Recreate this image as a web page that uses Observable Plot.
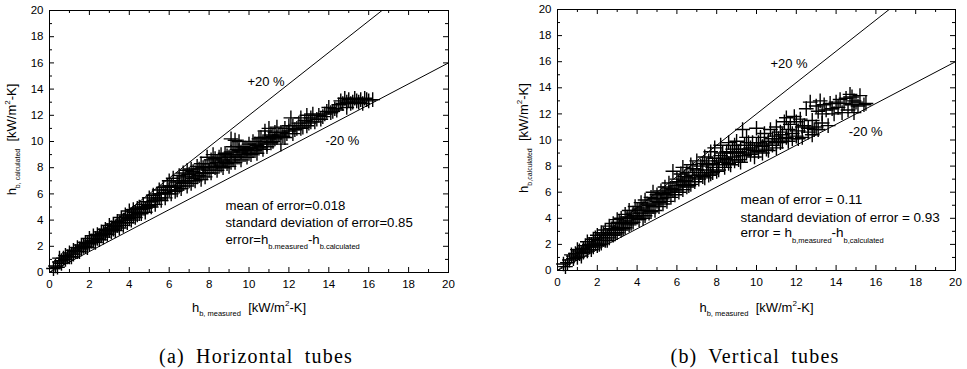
<!DOCTYPE html>
<html><head><meta charset="utf-8">
<script src="https://cdn.jsdelivr.net/npm/d3@7"></script>
<script src="https://cdn.jsdelivr.net/npm/@observablehq/plot@0.6"></script>
<style>
body{margin:0;background:#fff;}
#wrap{position:relative;width:967px;height:369px;overflow:hidden;background:#fff;}
.panel{position:absolute;top:0;}
.cap{position:absolute;top:346px;font-family:"Liberation Serif","Times New Roman",serif;font-size:20px;line-height:20px;letter-spacing:1.2px;word-spacing:5px;text-align:center;color:#000;white-space:pre;}
</style></head><body>
<div id="wrap">
<div id="pa" class="panel" style="left:0"></div>
<div id="pb" class="panel" style="left:480px"></div>
<div class="cap" style="left:0;width:512px">(a) Horizontal tubes</div>
<div class="cap" style="left:510px;width:490px">(b) Vertical tubes</div>
</div>
<script>
// ---- data ----
const majorTicks = [0, 2, 4, 6, 8, 10, 12, 14, 16, 18, 20];
const minorTicks = [1, 3, 5, 7, 9, 11, 13, 15, 17, 19];
const errorBand = 0.2;            // ±20 % reference lines
const refLineX = [0, 20];

// [h_b,measured, h_b,calculated]
const horizontalTubes = [
[0.2,0.3],[0.3,0.5],[0.4,0.4],[0.5,0.8],[0.5,1.1],[0.6,0.9],[0.7,1.1],[0.8,1.0],[0.8,1.3],[0.9,1.2],
[1.0,1.5],[1.0,1.2],[1.1,1.4],[1.2,1.7],[1.2,1.4],[1.3,1.6],[1.4,1.9],[1.4,1.6],[1.5,1.8],[1.6,2.1],
[1.6,1.8],[1.7,2.0],[1.8,2.3],[1.8,2.0],[1.9,2.2],[2.0,2.6],[2.0,2.2],[2.1,2.4],[2.2,2.8],[2.2,2.4],
[2.3,2.6],[2.4,2.9],[2.4,2.6],[2.5,2.8],[2.6,3.1],[2.6,2.8],[2.7,3.0],[2.8,3.3],[2.8,3.0],[2.9,3.2],
[3.0,3.6],[3.0,3.2],[3.1,3.4],[3.2,3.7],[3.2,3.3],[3.3,3.5],[3.4,3.9],[3.4,3.6],[3.5,3.8],[3.6,4.2],
[3.6,3.8],[3.7,4.0],[3.8,4.4],[3.8,4.0],[3.9,4.3],[4.0,4.7],[4.0,4.1],[4.1,4.4],[4.2,4.8],[4.2,4.3],
[4.3,4.6],[4.4,4.9],[4.5,4.5],[4.5,5.0],[4.6,4.8],[4.7,5.2],[4.8,4.9],[4.9,5.4],[5.0,5.1],[5.0,5.7],
[5.1,5.4],[5.2,5.9],[5.3,5.5],[5.4,6.0],[5.5,5.7],[5.5,6.3],[5.6,6.0],[5.7,6.5],[5.8,6.1],[5.9,6.6],
[6.0,6.3],[6.0,7.0],[6.1,6.6],[6.2,7.2],[6.3,6.5],[6.4,6.9],[6.5,7.4],[6.5,6.6],[6.6,7.0],[6.7,7.6],
[6.8,6.9],[6.8,7.3],[6.9,7.8],[7.0,7.0],[7.0,7.5],[7.1,7.9],[7.2,7.2],[7.3,7.6],[7.4,8.1],[7.5,7.4],
[7.5,7.9],[7.6,8.3],[7.7,7.6],[7.8,8.1],[7.9,8.8],[8.0,7.8],[8.0,8.3],[8.1,8.6],[8.2,9.0],[8.3,8.0],
[8.4,8.4],[8.5,8.8],[8.6,8.2],[8.7,8.6],[8.8,9.1],[8.9,8.3],[9.0,8.8],[9.1,10.2],[9.1,9.2],[9.2,8.6],
[9.3,10.1],[9.3,9.0],[9.4,9.4],[9.5,8.8],[9.5,10.0],[9.6,9.2],[9.7,9.6],[9.8,9.0],[9.9,9.4],[10.0,9.8],
[10.0,9.1],[10.1,9.5],[10.2,10.0],[10.3,9.3],[10.4,9.7],[10.5,10.2],[10.6,9.6],[10.7,10.0],[10.8,10.8],[10.8,10.3],
[10.9,9.8],[11.0,10.2],[11.0,11.0],[11.1,10.5],[11.2,10.0],[11.3,10.7],[11.4,10.3],[11.4,11.1],[11.6,9.8],[11.6,10.7],
[11.7,10.4],[11.8,11.0],[12.0,10.8],[12.1,11.8],[12.2,11.2],[12.3,10.9],[12.5,11.4],[12.6,11.8],[12.7,11.1],[12.8,11.6],
[12.9,12.0],[13.0,11.4],[13.1,11.8],[13.2,12.1],[13.4,11.7],[13.5,12.0],[13.7,11.9],[13.9,12.3],[14.0,12.6],[14.1,12.2],
[14.3,12.5],[14.5,12.8],[14.6,13.1],[14.7,12.9],[14.8,13.3],[14.9,13.0],[15.0,13.2],[15.2,13.0],[15.3,13.3],[15.4,13.1],
[15.6,13.2],[15.7,12.9],[15.8,13.3],[16.0,13.1],[16.2,13.2],
[0.6,0.7],[1.1,1.2],[1.5,1.6],[1.9,1.9],[2.3,2.3],[2.5,2.5],[2.7,2.7],[2.9,2.9],[3.1,3.1],[3.3,3.2],
[3.5,3.4],[3.7,3.6],[3.9,3.8],[4.1,4.0],[4.3,4.2],[4.4,4.4],[4.6,4.5],[4.8,4.6],[4.9,5.0],[5.1,5.0],
[5.3,5.2],[5.4,5.6],[5.6,5.5],[5.8,5.7],[5.9,6.0],[6.1,6.0],[6.3,6.2],[6.4,6.3],[6.6,6.4],[6.7,6.8],
[6.9,6.6],[7.1,6.8],[7.2,7.7],[7.3,7.0],[7.4,7.3],[7.6,7.1],[7.7,8.0],[7.8,7.3],[7.9,7.6],[8.1,7.6],
[8.2,8.1],[8.3,8.7],[8.4,7.8],[8.5,8.1],[8.6,9.0],[8.7,8.0],[8.8,8.5],[8.9,8.9],[9.0,8.1],[9.1,8.4],
[9.2,9.6],[9.3,8.4],[9.4,8.8],[9.5,9.3],[9.6,8.6],[9.7,9.0],[9.8,9.5],[9.9,8.8],[10.1,9.0],[10.2,9.3],
[10.3,9.8],[10.4,9.1],[10.5,9.5],[10.6,10.3],[10.7,9.4],[10.9,9.6],[11.1,9.9],[11.2,10.4],[11.3,10.2],[11.5,10.5],
[11.8,10.3],[11.9,10.6],[12.0,11.2],[12.2,10.6],[12.4,11.0],[12.6,11.0],[12.9,11.2],[13.1,11.5],[13.3,11.5],[13.6,11.7],
[13.8,12.1],[14.2,12.3],[14.4,12.4],[14.9,12.6],[15.1,12.9],[15.5,13.0],[15.9,13.2]
];

// [h_b,measured, h_b,calculated]
const verticalTubes = [
[0.3,0.5],[0.4,0.3],[0.6,0.8],[0.7,1.2],[0.8,0.9],[0.9,1.3],[1.0,1.0],[1.0,1.6],[1.1,1.3],[1.2,1.1],
[1.3,1.7],[1.3,1.4],[1.4,1.9],[1.5,1.5],[1.5,2.2],[1.6,1.8],[1.7,2.0],[1.7,1.6],[1.8,2.4],[1.9,2.1],
[2.0,1.9],[2.0,2.7],[2.1,2.3],[2.2,2.1],[2.2,2.9],[2.3,2.5],[2.4,2.3],[2.4,3.1],[2.5,2.7],[2.6,2.5],
[2.6,3.4],[2.7,2.9],[2.8,2.7],[2.8,3.6],[2.9,3.1],[3.0,2.9],[3.0,3.9],[3.1,3.3],[3.2,3.1],[3.2,4.0],
[3.3,3.6],[3.4,3.3],[3.4,4.3],[3.5,3.8],[3.6,3.5],[3.6,4.6],[3.7,4.0],[3.8,3.7],[3.8,4.4],[3.9,4.9],
[4.0,4.1],[4.0,4.6],[4.1,3.9],[4.2,5.2],[4.2,4.4],[4.3,4.8],[4.4,4.2],[4.4,5.4],[4.5,4.6],[4.6,5.0],
[4.6,4.4],[4.7,5.6],[4.8,4.9],[4.8,6.0],[4.9,4.6],[5.0,5.3],[5.0,5.8],[5.1,4.9],[5.2,5.5],[5.2,6.1],
[5.3,5.1],[5.4,5.8],[5.4,6.4],[5.5,5.3],[5.6,6.0],[5.6,6.7],[5.7,5.6],[5.8,6.2],[5.8,7.6],[5.9,5.8],
[6.0,6.5],[6.0,7.0],[6.1,6.0],[6.2,6.8],[6.2,7.4],[6.3,6.2],[6.3,7.9],[6.4,6.9],[6.5,6.4],[6.5,7.5],
[6.6,7.1],[6.7,6.6],[6.7,8.1],[6.8,7.3],[6.9,6.8],[7.0,7.7],[7.0,8.4],[7.1,7.0],[7.2,7.5],[7.3,8.2],
[7.3,7.2],[7.4,8.7],[7.5,7.7],[7.6,7.3],[7.6,8.4],[7.7,9.1],[7.8,7.9],[7.8,7.5],[7.9,8.6],[7.9,9.4],
[8.0,8.1],[8.1,7.7],[8.2,8.8],[8.2,9.6],[8.3,8.3],[8.4,7.9],[8.5,9.1],[8.5,8.5],[8.6,9.8],[8.7,8.1],
[8.8,8.7],[8.8,9.3],[8.9,8.4],[9.0,9.0],[9.0,9.9],[9.1,8.5],[9.2,9.3],[9.3,10.8],[9.3,8.8],[9.4,9.6],
[9.5,9.0],[9.5,10.2],[9.6,9.3],[9.7,8.9],[9.8,9.8],[9.9,9.2],[10.0,10.9],[10.0,9.6],[10.1,9.1],[10.2,10.2],
[10.3,9.5],[10.4,10.5],[10.5,9.3],[10.6,9.9],[10.7,10.8],[10.8,9.6],[10.9,10.3],[11.0,9.8],[11.0,11.0],[11.1,10.1],
[11.2,10.6],[11.3,9.9],[11.4,11.4],[11.5,10.2],[11.5,11.7],[11.6,10.8],[11.7,11.2],[11.8,10.1],[11.9,11.8],[12.0,10.3],
[12.0,11.4],[12.1,10.7],[12.2,11.6],[12.3,10.2],[12.4,11.1],[12.5,12.4],[12.6,10.6],[12.7,12.9],[12.8,11.5],[12.9,10.8],
[13.0,12.6],[13.0,11.0],[13.1,12.2],[13.2,13.0],[13.3,11.3],[13.4,12.7],[13.5,12.3],[13.7,12.8],[13.9,12.0],[14.0,12.9],
[14.1,12.5],[14.2,13.1],[14.4,12.8],[14.5,13.2],[14.6,12.3],[14.7,13.5],[14.8,12.7],[14.8,13.3],[14.9,12.1],[15.0,12.9],
[15.1,12.6],[15.2,13.4],[15.4,12.7],[15.5,12.8],
[0.5,0.6],[0.8,1.1],[1.1,1.5],[1.2,1.3],[1.6,2.0],[1.8,1.8],[1.9,2.5],[2.1,2.0],[2.3,2.8],[2.5,2.3],
[2.7,3.2],[2.9,2.8],[3.1,3.7],[3.3,3.2],[3.5,4.1],[3.7,3.6],[3.9,4.2],[4.1,4.7],[4.3,4.0],[4.5,5.1],
[4.7,4.5],[4.9,5.5],[5.1,5.2],[5.3,5.9],[5.5,5.6],[5.7,6.3],[5.9,6.1],[6.1,6.8],[6.3,6.6],[6.4,7.2],
[6.6,6.5],[6.8,7.8],[6.9,7.1],[7.1,7.3],[7.2,8.0],[7.4,7.1],[7.5,8.1],[7.7,7.4],[7.8,8.2],[8.0,7.6],
[8.1,8.4],[8.3,9.0],[8.4,8.6],[8.6,8.2],[8.7,9.0],[8.9,9.6],[9.1,9.1],[9.2,8.3],[9.4,8.8],[9.6,9.8],
[9.7,9.4],[9.9,8.7],[10.1,9.8],[10.3,9.0],[10.4,9.7],[10.6,9.2],[10.8,10.1],[11.0,9.4],[11.2,9.8],[11.3,10.4],
[11.6,9.9],[11.8,10.5],[12.1,10.1],[12.3,11.0],[12.6,10.9],[12.8,10.4],[13.1,10.8],[13.3,12.0],[13.6,11.1],[13.8,12.4],
[14.3,12.1],[14.9,13.0]
];

// ---- text ----
const unitParts = [[" [kW/m",0],["2",2],["-K]",0]];
const horizontalText = {
  xTitle: [["h",0],["b, measured",1],[" ",0], ...unitParts],
  yTitle: [["h",0],["b, calculated",1],[" ",0], ...unitParts],
  stats: [
    [["mean of error=0.018",0]],
    [["standard deviation of error=0.85",0]],
    [["error=h",0],["b.measured",1],["-h",0],["b.calculated",1]]
  ]
};
const verticalText = {
  xTitle: [["h",0],["b, measured",1],[" ",0], ...unitParts],
  yTitle: [["h",0],["b,calculated",1],[" ",0], ...unitParts],
  stats: [
    [["mean of error = 0.11",0]],
    [["standard deviation of error = 0.93",0]],
    [["error = h",0],["b,measured",1],["-h",0],["b,calculated",1]]
  ]
};

function rich(svg, key, parts, base, subSize) {
  const t = d3.select(svg).selectAll("text").filter(function() { return this.textContent === key; });
  t.text(null).style("white-space", "pre");
  let shift = 0;
  for (const [s, k] of parts) {
    const target = k === 1 ? base * 0.38 : k === 2 ? -base * 0.42 : 0;
    const ts = t.append("tspan").text(s).attr("dy", target - shift);
    if (k === 1) ts.attr("font-size", subSize);
    if (k === 2) ts.attr("font-size", base * 0.62);
    shift = target;
  }
}

function panel(el, data, txt, cfg) {
  const H = 320;
  const fw = cfg.width - cfg.ml - cfg.mr;
  const fh = H - cfg.mt - cfg.mb;
  const ink = {stroke: "#000", strokeWidth: 1};
  const statKeys = txt.stats.map((p, i) => "@stat" + i);
  const statMarks = statKeys.map((k, i) =>
    Plot.text([k], {
      x: cfg.statsAt[0], y: cfg.statsAt[1][i], textAnchor: "start", lineAnchor: "bottom",
      fontSize: cfg.statSize, fill: "#000"
    }));
  const svg = Plot.plot({
    width: cfg.width, height: H,
    marginLeft: cfg.ml, marginRight: cfg.mr, marginTop: cfg.mt, marginBottom: cfg.mb,
    style: {fontFamily: "'Liberation Sans', Arial, sans-serif", fontSize: "11.5px", color: "#000", background: "#fff", overflow: "visible"},
    x: {domain: [0, 20]},
    y: {domain: [0, 20]},
    marks: [
      Plot.axisX(majorTicks, {tickSize: 0, tickPadding: 7, fontSize: 11.5, label: null, fill: "#000"}),
      Plot.axisY(majorTicks, {tickSize: 0, tickPadding: 6, fontSize: 11.5, label: null, fill: "#000"}),
      Plot.tickX(majorTicks, {x: d => d, insetTop: fh - 5, ...ink}),
      Plot.tickX(majorTicks, {x: d => d, insetBottom: fh - 5, ...ink}),
      Plot.tickX(minorTicks, {x: d => d, insetTop: fh - 3, ...ink}),
      Plot.tickX(minorTicks, {x: d => d, insetBottom: fh - 3, ...ink}),
      Plot.tickY(majorTicks, {y: d => d, insetRight: fw - 5, ...ink}),
      Plot.tickY(majorTicks, {y: d => d, insetLeft: fw - 5, ...ink}),
      Plot.tickY(minorTicks, {y: d => d, insetRight: fw - 3, ...ink}),
      Plot.tickY(minorTicks, {y: d => d, insetLeft: fw - 3, ...ink}),
      Plot.line(refLineX, {x: d => d, y: d => d * (1 + errorBand), clip: true, ...ink}),
      Plot.line(refLineX, {x: d => d, y: d => d * (1 - errorBand), clip: true, ...ink}),
      Plot.dot(data, {x: d => d[0], y: d => d[1], symbol: "plus", r: 4.8, stroke: "#000", strokeWidth: 1.4}),
      Plot.text(["+20 %"], {x: cfg.plusAt[0], y: cfg.plusAt[1], textAnchor: "start", lineAnchor: "bottom", fontSize: 13, fill: "#000"}),
      Plot.text(["-20 %"], {x: cfg.minusAt[0], y: cfg.minusAt[1], textAnchor: "start", lineAnchor: "bottom", fontSize: 13, fill: "#000"}),
      ...statMarks,
      Plot.text(["@xtitle"], {frameAnchor: "bottom", dy: cfg.xTitleDy, textAnchor: "middle", lineAnchor: "bottom", fontSize: 13, fill: "#000"}),
      Plot.text(["@ytitle"], {frameAnchor: "left", dx: cfg.yTitleDx, dy: -2, rotate: -90, textAnchor: "middle", lineAnchor: "bottom", fontSize: 13, fill: "#000"}),
      Plot.frame({stroke: "#000", strokeWidth: 1})
    ]
  });
  rich(svg, "@xtitle", txt.xTitle, 13, 7.5);
  rich(svg, "@ytitle", txt.yTitle, 13, 7);
  txt.stats.forEach((p, i) => rich(svg, statKeys[i], p, cfg.statSize, 7.5));
  document.getElementById(el).appendChild(svg);
}

panel("pa", horizontalTubes, horizontalText, {
  width: 480, ml: 49, mr: 32, mt: 10, mb: 48,
  plusAt: [9.92, 14.27], minusAt: [13.83, 9.7],
  statsAt: [8.82, [4.8, 3.5, 2.14]], statSize: 13.2,
  xTitleDy: 39, yTitleDx: -34
});
panel("pb", verticalTubes, verticalText, {
  width: 487, ml: 77, mr: 12, mt: 9, mb: 50,
  plusAt: [10.7, 15.48], minusAt: [14.63, 10.34],
  statsAt: [9.2, [5.06, 3.75, 2.53]], statSize: 13.5,
  xTitleDy: 41, yTitleDx: -30
});
</script>
</body></html>
